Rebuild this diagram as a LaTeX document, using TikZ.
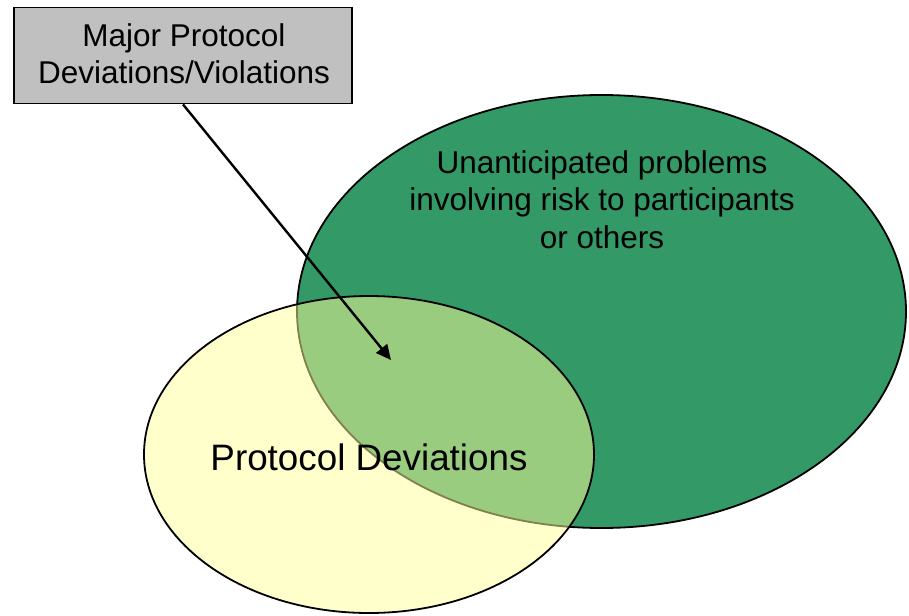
\documentclass[tikz,border=0pt]{standalone}
\usepackage{fontspec}
\setmainfont{Liberation Sans}
\usetikzlibrary{shapes.geometric,arrows.meta}
\definecolor{bigGreen}{HTML}{339966}
\definecolor{softYellow}{HTML}{FFFF99}
\definecolor{boxGray}{HTML}{C0C0C0}
\tikzset{
  blob/.style={ellipse, inner sep=0pt, draw=black, line width=1.8pt},
  txt/.style={anchor=base, inner sep=0pt, font=\fontsize{31.5}{37.5}\selectfont},
  bigtxt/.style={anchor=base, inner sep=0pt, font=\fontsize{36.8}{44}\selectfont},
  labelbox/.style={draw=black, line width=1.8pt, fill=boxGray, inner sep=0pt},
  pointer/.style={line width=2.4pt, -{Triangle[length=15pt,width=14pt]}}
}
\begin{document}
\begin{tikzpicture}[x=1pt,y=-1pt]
\useasboundingbox (0,0) rectangle (909,615);
\node[blob, fill=bigGreen, minimum width=609pt, minimum height=433pt] (green) at (601.5,311.5) {};
\node[blob, fill=softYellow, fill opacity=0.5, minimum width=450pt, minimum height=317pt] (yellow) at (369,454.5) {};
\node[txt] (g1) at (602,173) {Unanticipated problems};
\node[txt] (g2) at (602,210.5) {involving risk to participants};
\node[txt] (g3) at (602,248) {or others};
\node[bigtxt] (pd) at (369,470) {Protocol Deviations};
\node[labelbox, minimum width=338pt, minimum height=96pt] (box) at (183,55.5) {};
\node[txt] (b1) at (184,47) {Major Protocol};
\node[txt] (b2) at (184,83.5) {Deviations/Violations};
\coordinate (tip) at (391,360);
\draw[pointer] (box.south) -- (tip);
\end{tikzpicture}
\end{document}
